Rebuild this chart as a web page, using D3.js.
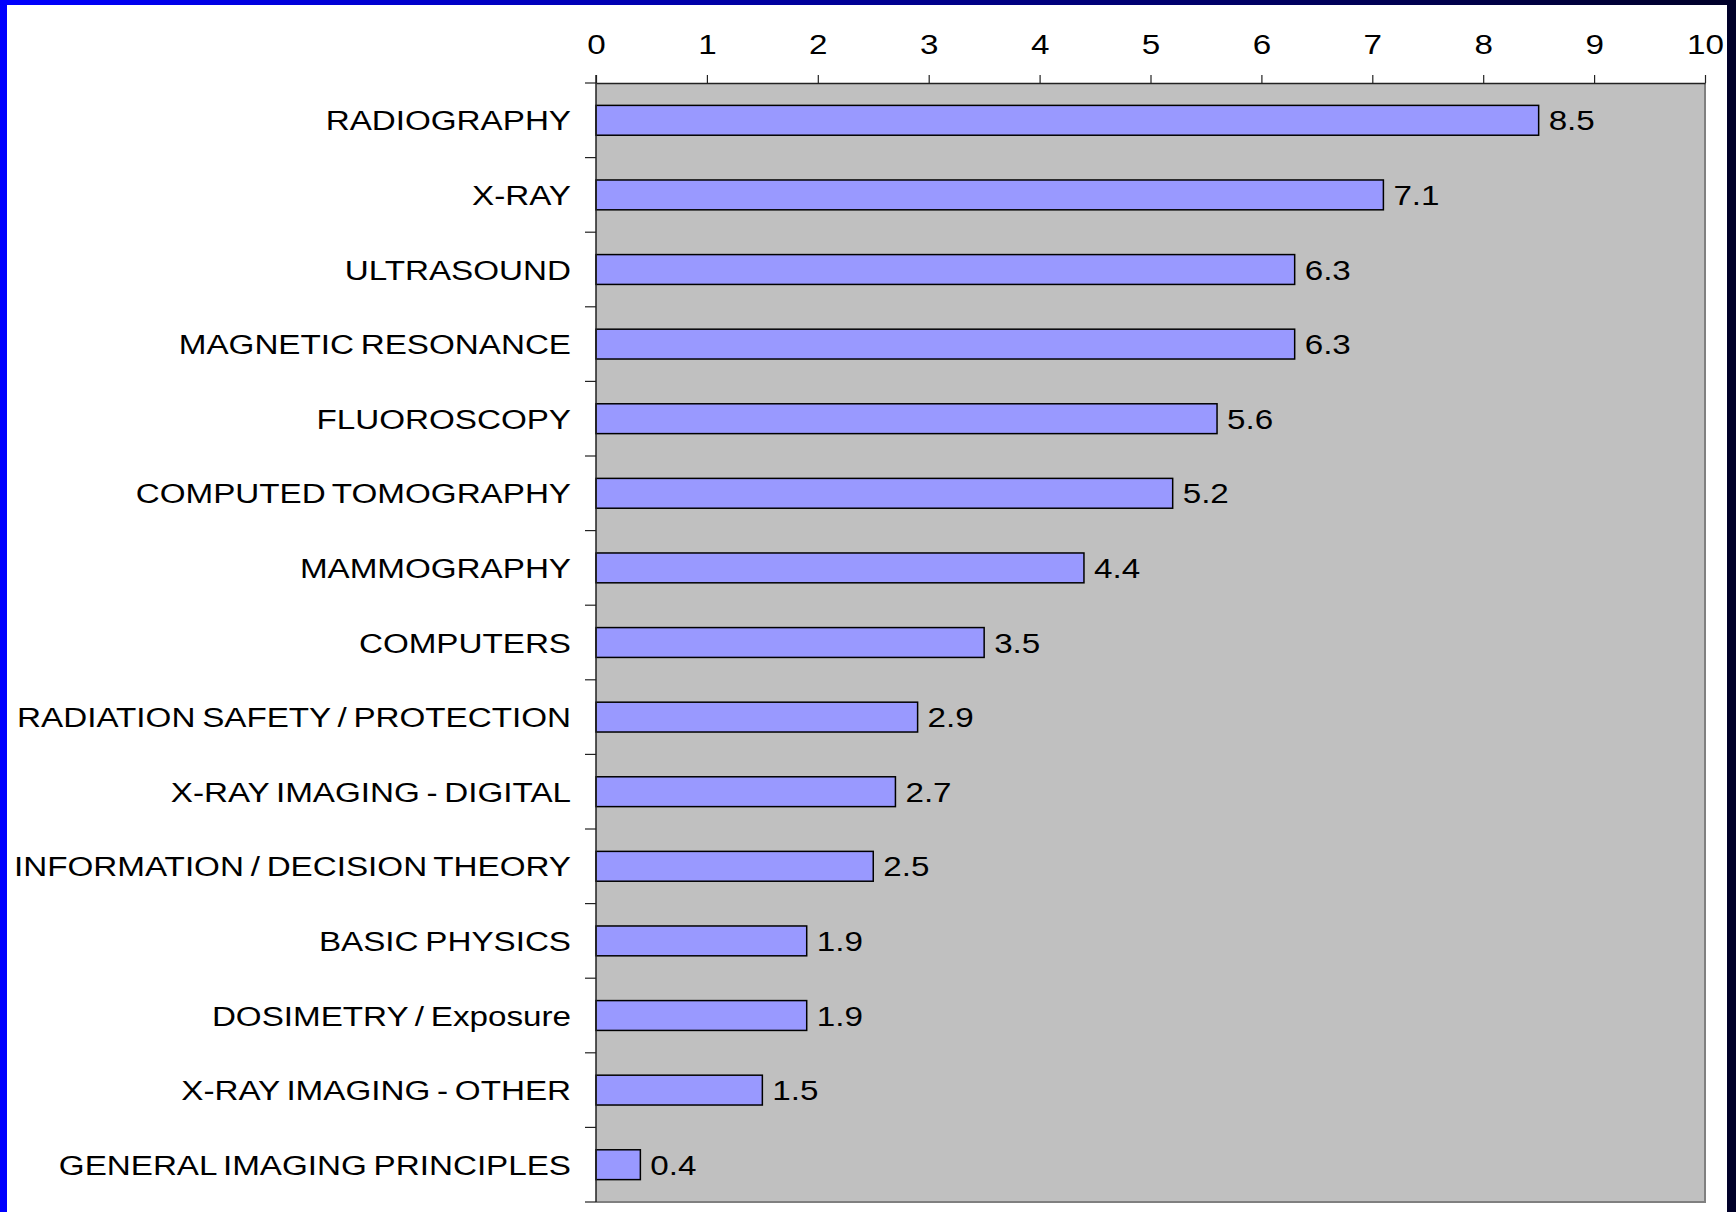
<!DOCTYPE html>
<html>
<head>
<meta charset="utf-8">
<script src="https://cdn.jsdelivr.net/npm/d3@7"></script>
<style>
  body { margin: 0; background: #fff; }
  svg text { font-family: "Liberation Sans", Arial, sans-serif; fill: #000; word-spacing: -2px; }
</style>
</head>
<body>
<svg width="1736" height="1212"></svg>
<script>
// data
var categories = ["RADIOGRAPHY", "X-RAY", "ULTRASOUND", "MAGNETIC RESONANCE", "FLUOROSCOPY",
  "COMPUTED TOMOGRAPHY", "MAMMOGRAPHY", "COMPUTERS", "RADIATION SAFETY / PROTECTION",
  "X-RAY IMAGING - DIGITAL", "INFORMATION / DECISION THEORY", "BASIC PHYSICS",
  "DOSIMETRY / Exposure", "X-RAY IMAGING - OTHER", "GENERAL IMAGING PRINCIPLES"];
var values = [8.5, 7.1, 6.3, 6.3, 5.6, 5.2, 4.4, 3.5, 2.9, 2.7, 2.5, 1.9, 1.9, 1.5, 0.4];
var xTicks = [0, 1, 2, 3, 4, 5, 6, 7, 8, 9, 10];

var data = categories.map((c, i) => ({name: c, value: values[i]}));

var svg = d3.select("svg"),
    margin = {top: 83, right: 31, bottom: 10, left: 596},
    W = +svg.attr("width"), H = +svg.attr("height"),
    stretch = 1.23, fontSize = 27;

// slide background: blue frame round a white page
var grad = svg.append("defs").append("linearGradient").attr("id", "frame");
grad.append("stop").attr("offset", "0%").attr("stop-color", "#0000ff");
grad.append("stop").attr("offset", "100%").attr("stop-color", "#000028");
svg.append("rect").attr("width", W).attr("height", H).attr("fill", "url(#frame)");
svg.append("rect").attr("x", 7).attr("y", 5).attr("width", 1720).attr("height", H - 5).attr("fill", "#fff");

var x = d3.scaleLinear().domain([0, 10]).range([margin.left, W - margin.right]);
var y = d3.scaleBand().domain(categories)
    .range([margin.top, H - margin.bottom])
    .paddingInner(0.6).paddingOuter(0.3);

// plot area
svg.append("rect")
    .attr("x", x(0)).attr("y", margin.top)
    .attr("width", x(10) - x(0)).attr("height", H - margin.bottom - margin.top)
    .attr("fill", "#c0c0c0");
svg.append("path")
    .attr("d", "M" + x(10) + "," + margin.top + "V" + (H - margin.bottom) + "H" + x(0))
    .attr("fill", "none").attr("stroke", "#808080").attr("stroke-width", 2);

// bars
svg.selectAll(".bar")
  .data(data)
  .join("rect")
    .attr("class", "bar")
    .attr("x", x(0))
    .attr("y", d => y(d.name))
    .attr("width", d => x(d.value) - x(0))
    .attr("height", y.bandwidth())
    .attr("fill", "#9999ff")
    .attr("stroke", "#000")
    .attr("stroke-width", 1.5);

// value labels
svg.selectAll(".val")
  .data(data)
  .join("text")
    .attr("class", "val")
    .attr("transform", d => "translate(" + (x(d.value) + 10) + "," + (y(d.name) + y.bandwidth() / 2 + 10) + ") scale(" + stretch + ",1)")
    .style("font-size", fontSize + "px")
    .text(d => d.value.toFixed(1));

// top axis
var xAxis = svg.append("g")
    .attr("transform", "translate(0," + margin.top + ")")
    .call(d3.axisTop(x).tickValues(xTicks).tickSize(8).tickSizeOuter(0).tickPadding(21));
xAxis.select(".domain").attr("stroke", "#222").attr("stroke-width", 1.5);
xAxis.selectAll(".tick line").attr("stroke", "#222").attr("stroke-width", 1.2);
xAxis.selectAll(".tick text")
    .attr("font-family", null).attr("font-size", null)
    .style("font-size", fontSize + "px")
    .attr("transform", "scale(" + stretch + ",1)")
    .attr("x", 0);

// left axis with ticks between categories
var step = y.step();
var bounds = d3.range(categories.length + 1).map(i => y(categories[0]) - step * 0.3 + i * step);
svg.append("line")
    .attr("x1", x(0)).attr("x2", x(0))
    .attr("y1", margin.top - 8).attr("y2", H - margin.bottom)
    .attr("stroke", "#222").attr("stroke-width", 1.5);
svg.selectAll(".ctick")
  .data(bounds)
  .join("line")
    .attr("class", "ctick")
    .attr("x1", x(0) - 11).attr("x2", x(0))
    .attr("y1", d => d).attr("y2", d => d)
    .attr("stroke", "#222").attr("stroke-width", 1.2);

// category labels
svg.selectAll(".cat")
  .data(data)
  .join("text")
    .attr("class", "cat")
    .attr("text-anchor", "end")
    .attr("transform", d => "translate(" + (x(0) - 25) + "," + (y(d.name) + y.bandwidth() / 2 + 10) + ") scale(" + stretch + ",1)")
    .style("font-size", fontSize + "px")
    .text(d => d.name);
</script>
</body>
</html>
